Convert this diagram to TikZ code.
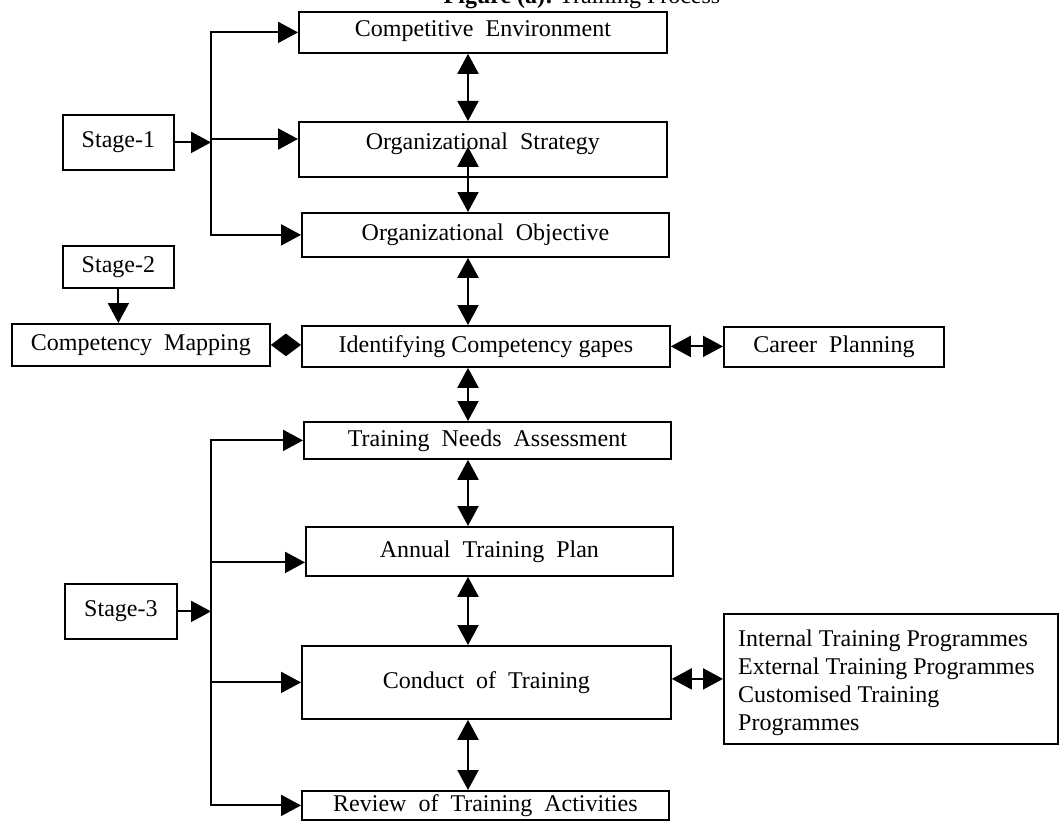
\documentclass[tikz,border=0pt]{standalone}
\usepackage{fontspec}
\setmainfont{Liberation Serif}
\usetikzlibrary{arrows.meta,calc}
\begin{document}
\begin{tikzpicture}[x=1pt,y=-1pt,
  txt/.style={font=\fontsize{24}{28}\selectfont},
  box/.style={txt, draw, line width=1.8pt, inner sep=0pt, anchor=north west},
  conn/.style={line width=2pt},
  arr/.style={conn, -{Triangle[length=20pt,width=21pt]}},
  darr/.style={conn, {Triangle[length=20pt,width=21pt]}-{Triangle[length=20pt,width=21pt]}},
  sdarr/.style={conn, {Triangle[length=15pt,width=22pt]}-{Triangle[length=15pt,width=22pt]}}
]
\useasboundingbox (0,0) rectangle (1059,821);
\clip (0,0) rectangle (1059,821);

\node[txt, anchor=base] (title) at (582,4) {\textbf{Figure~(a):}~Training~Process};

\node[box, minimum width=368pt, minimum height=41pt, text height=14pt] (ce) at (298,11) {Competitive~~Environment};
\node[box, minimum width=368pt, minimum height=55pt, text depth=16pt] (os) at (298,121) {Organizational~~Strategy};
\node[box, minimum width=367pt, minimum height=44pt] (oo) at (301,212) {Organizational~~Objective};
\node[box, minimum width=368pt, minimum height=41pt] (icg) at (301,325) {Identifying Competency gapes};
\node[box, minimum width=220pt, minimum height=40pt] (cp) at (723,326) {Career~~Planning};
\node[box, minimum width=258pt, minimum height=42pt] (cm) at (11,323) {Competency~~Mapping};
\node[box, minimum width=111pt, minimum height=42pt] (s2) at (62,245) {Stage-2};
\node[box, minimum width=111pt, minimum height=55pt] (s1) at (62,114) {Stage-1};
\node[box, minimum width=112pt, minimum height=55pt] (s3) at (64,583) {Stage-3};
\node[box, minimum width=367pt, minimum height=37pt] (tna) at (303,421) {Training~~Needs~~Assessment};
\node[box, minimum width=367pt, minimum height=49pt] (atp) at (305,526) {Annual~~Training~~Plan};
\node[box, minimum width=369pt, minimum height=73pt] (cot) at (301,645) {Conduct~~of~~Training};
\node[box, minimum width=367pt, minimum height=29pt] (rta) at (301,790) {Review~~of~~Training~~Activities};
\node[box, minimum width=334pt, minimum height=130pt] (prog) at (723,613) {};
\node[txt, anchor=north west, inner sep=0pt, align=left] (progtxt) at (738,630)
  {Internal Training Programmes\\External Training Programmes\\Customised Training\\Programmes};

\coordinate (col) at (468,0);
\coordinate (j1) at (211,141);
\coordinate (j3) at (211,611);

% Stage-1 branches
\draw[arr] (s1.east) -- (s1.east -| j1);
\draw[arr] (j1) |- (ce.west);
\draw[arr] ($(j1)+(0,-2)$) -- ($(j1 -| os.west)+(0,-2)$);
\draw[arr] (j1) |- (oo.west);

% Stage-2
\draw[arr] (s2.south) -- (s2.south |- cm.north);

% Stage-3 branches
\draw[arr] (s3.east) -- (s3.east -| j3);
\draw[arr] (j3) |- (tna.west);
\draw[arr] (j3) |- ($(atp.west)+(0,11)$);
\draw[arr] (j3) |- (cot.west);
\draw[arr] (j3) |- (rta.west);

% horizontal links
\draw[sdarr] (cm.east) -- (cm.east -| icg.west);
\draw[darr] (icg.east) -- (icg.east -| cp.west);
\draw[darr] (prog.west -| cot.east) -- (prog.west);

% vertical links
\draw[darr] (ce.south -| col) -- (os.north -| col);
\draw[darr] ($(os.south -| col)+(0,-31)$) -- (oo.north -| col);
\draw[darr] (oo.south -| col) -- (icg.north -| col);
\draw[darr] (icg.south -| col) -- (tna.north -| col);
\draw[darr] (tna.south -| col) -- (atp.north -| col);
\draw[darr] (atp.south -| col) -- (cot.north -| col);
\draw[darr] (cot.south -| col) -- (rta.north -| col);
\end{tikzpicture}
\end{document}
